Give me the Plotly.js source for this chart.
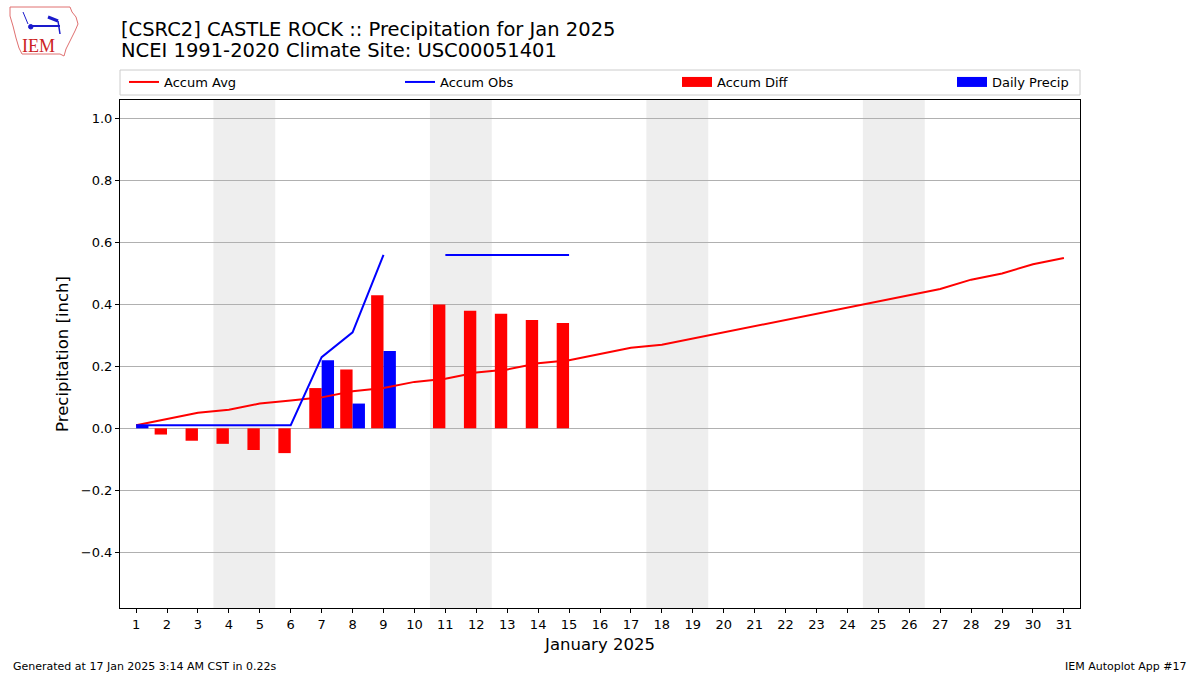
<!DOCTYPE html>
<html>
<head>
<meta charset="utf-8">
<script src="https://cdn.plot.ly/plotly-3.0.1.min.js"></script>
<style>html,body{margin:0;padding:0;background:#fff;}#chart{width:1200px;height:675px;}</style>
</head>
<body>
<div id="chart"></div>
<script>
const days = Array.from({length: 31}, (_, i) => i + 1);
const accumAvg = [0.01,0.03,0.05,0.06,0.08,0.09,0.10,0.12,0.13,0.15,0.16,0.18,0.19,0.21,0.22,0.24,0.26,0.27,0.29,0.31,0.33,0.35,0.37,0.39,0.41,0.43,0.45,0.48,0.50,0.53,0.55];
const obsDays = [1,2,3,4,5,6,7,8,9,10,11,12,13,14,15];
const accumObs = [0.01,0.01,0.01,0.01,0.01,0.01,0.23,0.31,0.56,null,0.56,0.56,0.56,0.56,0.56];
const accumDiff = [0.00,-0.02,-0.04,-0.05,-0.07,-0.08,0.13,0.19,0.43,null,0.40,0.38,0.37,0.35,0.34];
const dailyPrecip = [0.01,0,0,0,0,0,0.22,0.08,0.25,null,0,0,0,0,0];
const weekendStarts = [4, 11, 18, 25];
const yTicks = [-0.4,-0.2,0.0,0.2,0.4,0.6,0.8,1.0];

const L = 120, T = 100, W = 960, H = 508;
const px = x => (x - L) / W;
const py = y => (T + H - y) / H;

const shapes = weekendStarts.map(d => ({
  type: 'rect', xref: 'x', yref: 'paper', x0: d - 0.5, x1: d + 1.5, y0: 0, y1: 1,
  fillcolor: '#eeeeee', line: {width: 0}, layer: 'below'
}));

// IEM logo outline (decorative)
const iowa = [[10,7],[70,7],[72,12],[76,17],[78,24],[75,31],[72,37],[69,43],[66,49],[64,56],[60,54],[22,54],[19,48],[16,38],[13,26],[10,16]];
shapes.push({
  type: 'path', xref: 'paper', yref: 'paper',
  path: 'M' + iowa.map(p => px(p[0]).toFixed(5) + ',' + py(p[1]).toFixed(5)).join(' L') + ' Z',
  line: {color: '#e07070', width: 1}, fillcolor: 'rgba(0,0,0,0)'
});
shapes.push({type:'line', xref:'paper', yref:'paper', x0:px(30), y0:py(26), x1:px(60), y1:py(26), line:{color:'#1a1acc', width:2}});
shapes.push({type:'line', xref:'paper', yref:'paper', x0:px(48), y0:py(17), x1:px(58), y1:py(21), line:{color:'#1a1acc', width:3}});
shapes.push({type:'line', xref:'paper', yref:'paper', x0:px(58), y0:py(21), x1:px(60), y1:py(34), line:{color:'#1a1acc', width:1.5}});
shapes.push({type:'line', xref:'paper', yref:'paper', x0:px(23), y0:py(12), x1:px(28), y1:py(24), line:{color:'#1a1acc', width:1}});
shapes.push({type:'circle', xref:'paper', yref:'paper', x0:px(28.5), y0:py(24.5), x1:px(33), y1:py(29), fillcolor:'#1a1acc', line:{color:'#1a1acc', width:1}});
// legend frame
shapes.push({type:'rect', xref:'paper', yref:'paper', x0:0, x1:1, y0:py(95), y1:py(70), line:{color:'#cccccc', width:1}, fillcolor:'rgba(0,0,0,0)', layer:'above'});

const traces = [
  {x: days, y: accumAvg, type: 'scatter', mode: 'lines', name: 'Accum Avg', line: {color: '#ff0000', width: 2}, legend: 'legend'},
  {x: obsDays, y: accumObs, type: 'scatter', mode: 'lines', name: 'Accum Obs', line: {color: '#0000ff', width: 2}, connectgaps: false, legend: 'legend2'},
  {x: obsDays.map(d => d - 0.2), y: accumDiff, type: 'bar', width: 0.4, name: 'Accum Diff', marker: {color: '#ff0000', line: {width: 0}}, showlegend: false},
  {x: obsDays.map(d => d + 0.2), y: dailyPrecip, type: 'bar', width: 0.4, name: 'Daily Precip', marker: {color: '#0000ff', line: {width: 0}}, showlegend: false},
  // legend-only entries drawn as wide rectangles like the reference
  {x: [null], y: [null], type: 'scatter', mode: 'lines', name: 'Accum Diff', line: {color: '#ff0000', width: 10}, legend: 'legend3', showlegend: true},
  {x: [null], y: [null], type: 'scatter', mode: 'lines', name: 'Daily Precip', line: {color: '#0000ff', width: 10}, legend: 'legend4', showlegend: true}
];

function leg(leftPx) {
  return {
    orientation: 'h', x: px(leftPx), xanchor: 'left', y: py(67), yanchor: 'top',
    bgcolor: 'rgba(0,0,0,0)', borderwidth: 0,
    font: {family: 'DejaVu Sans', size: 13}
  };
}

const fmt = v => v.toFixed(1).replace('-', '\u2212');

const layout = {
  width: 1200, height: 675,
  margin: {l: L, r: 1200 - L - W, t: T, b: 675 - T - H},
  paper_bgcolor: '#ffffff', plot_bgcolor: '#ffffff',
  font: {family: 'DejaVu Sans', size: 13, color: '#000000'},
  barmode: 'overlay',
  showlegend: true,
  legend: leg(124), legend2: leg(400), legend3: leg(677), legend4: leg(952),
  xaxis: {
    range: [0.48, 31.52], tickmode: 'array', tickvals: days, ticktext: days.map(String),
    showgrid: false, zeroline: false, showline: true, mirror: true, linecolor: '#000', linewidth: 1,
    ticks: 'outside', ticklen: 4, tickcolor: '#000',
    tickfont: {family: 'DejaVu Sans', size: 13},
    title: {text: 'January 2025', font: {family: 'DejaVu Sans', size: 16.5}, standoff: 7}
  },
  yaxis: {
    range: [-0.58, 1.06], tickmode: 'array', tickvals: yTicks, ticktext: yTicks.map(fmt),
    showgrid: true, gridcolor: '#b0b0b0', gridwidth: 1, zeroline: false,
    showline: true, mirror: true, linecolor: '#000', linewidth: 1,
    ticks: 'outside', ticklen: 4, tickcolor: '#000',
    tickfont: {family: 'DejaVu Sans', size: 13},
    title: {text: 'Precipitation [inch]', font: {family: 'DejaVu Sans', size: 16.5}, standoff: 8}
  },
  shapes: shapes,
  annotations: [
    {text: '[CSRC2] CASTLE ROCK :: Precipitation for Jan 2025', xref: 'paper', yref: 'paper', x: px(119), y: py(29),
     xanchor: 'left', yanchor: 'middle', showarrow: false, font: {family: 'DejaVu Sans', size: 19.5}},
    {text: 'NCEI 1991-2020 Climate Site: USC00051401', xref: 'paper', yref: 'paper', x: px(119), y: py(51),
     xanchor: 'left', yanchor: 'middle', showarrow: false, font: {family: 'DejaVu Sans', size: 19.5}},
    {text: 'IEM', xref: 'paper', yref: 'paper', x: px(38), y: py(46), showarrow: false,
     font: {family: 'Liberation Serif', size: 18, color: '#cc2222'}, xanchor: 'center', yanchor: 'middle'},
    {text: 'Generated at 17 Jan 2025 3:14 AM CST in 0.22s', xref: 'paper', yref: 'paper', x: px(11), y: py(666),
     xanchor: 'left', yanchor: 'middle', showarrow: false, font: {family: 'DejaVu Sans', size: 11}},
    {text: 'IEM Autoplot App #17', xref: 'paper', yref: 'paper', x: px(1189), y: py(666),
     xanchor: 'right', yanchor: 'middle', showarrow: false, font: {family: 'DejaVu Sans', size: 11}}
  ]
};

Plotly.newPlot('chart', traces, layout, {displayModeBar: false, staticPlot: true});
</script>
</body>
</html>
